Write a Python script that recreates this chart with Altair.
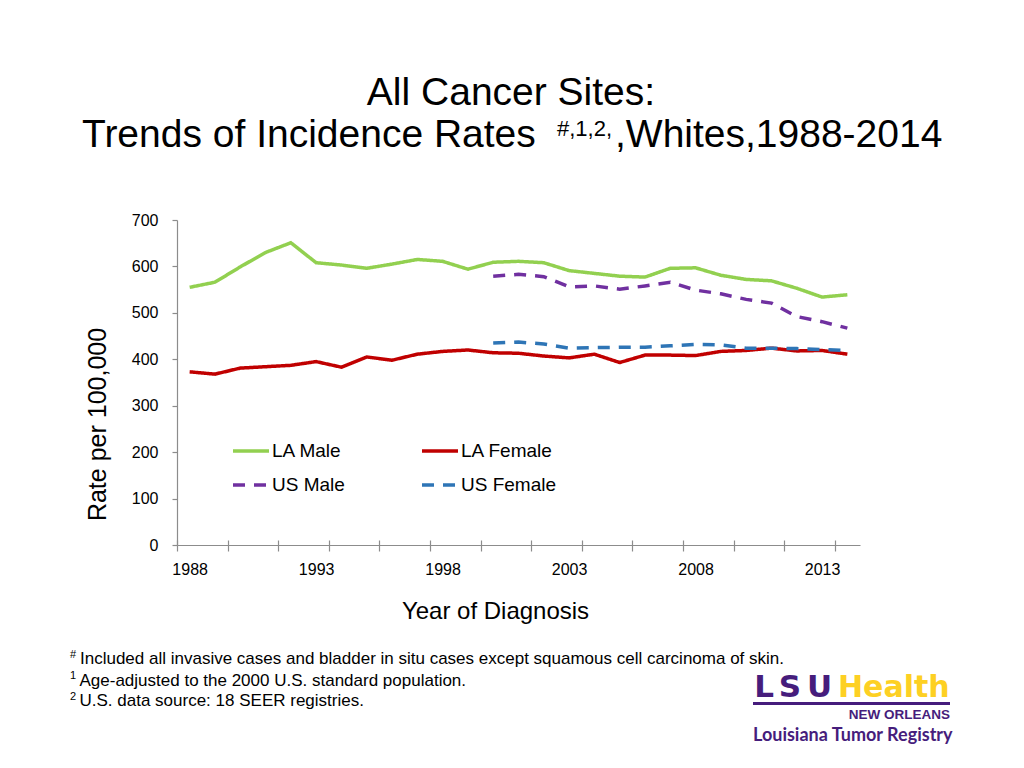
import altair as alt
import pandas as pd

# ---------------- data ----------------
years = list(range(1988, 2015))
us_years = list(range(2000, 2015))
la_male = [555, 566, 599, 630, 651, 608, 603, 596, 605, 615, 611, 594, 609, 611,
           608, 591, 585, 579, 577, 596, 597, 581, 572, 569, 553, 534, 539]
la_female = [373, 368, 381, 384, 387, 395, 383, 405, 398, 411, 417, 420, 414, 413,
             407, 403, 411, 393, 409, 409, 408, 417, 419, 424, 418, 419, 411]
us_male = [579, 583, 578, 556, 558, 551, 558, 566, 549, 541, 529, 521, 492, 481, 467]
us_female = [435, 437, 433, 424, 425, 426, 426, 429, 432, 431, 424, 424, 423, 421, 419]

series = ["LA Male", "LA Female", "US Male", "US Female"]
colors = ["#92D050", "#C00000", "#7030A0", "#2E75B6"]
dashes = [[1, 0], [1, 0], [12, 9], [12, 9]]

label_years = [1988, 1993, 1998, 2003, 2008, 2013]
tick_bounds = [1987.5, 1989.5, 1991.5, 1993.5, 1995.5, 1997.5, 1999.5,
               2001.5, 2003.5, 2005.5, 2007.5, 2009.5, 2011.5, 2013.5]
y_ticks = [0, 100, 200, 300, 400, 500, 600, 700]

rows = []
for name, ys, vals in [("LA Male", years, la_male), ("LA Female", years, la_female),
                       ("US Male", us_years, us_male), ("US Female", us_years, us_female)]:
    for yr, v in zip(ys, vals):
        rows.append({"year": yr, "rate": v, "series": name})
df = pd.DataFrame(rows)

FONT = "Liberation Sans"
GREY = "#8C8C8C"
PURPLE = "#461D7C"
GOLD = "#FDD023"

W, H = 683, 325
OX, OY = 177, 220  # page position of plot origin

xscale = alt.Scale(domain=[1987.5, 2014.5], nice=False, zero=False)
yscale = alt.Scale(domain=[0, 700], nice=False, zero=True)

legend = alt.Legend(
    title=None, orient="none", legendX=231 - OX, legendY=431 - OY,
    direction="horizontal", columns=2, columnPadding=70, rowPadding=4, padding=0,
    symbolType="stroke", symbolSize=1296, symbolStrokeWidth=3.5,
    labelFont=FONT, labelFontSize=19, labelColor="black", labelOffset=1,
)

lines = alt.Chart(df).mark_line(strokeWidth=3.5, strokeCap="butt").encode(
    x=alt.X("year:Q", scale=xscale, axis=alt.Axis(
        orient="bottom", values=tick_bounds, labels=False, ticks=True, tickSize=6,
        tickColor=GREY, domainColor=GREY, domainWidth=1.2, tickWidth=1.2,
        grid=False, title=None)),
    y=alt.Y("rate:Q", scale=yscale, axis=alt.Axis(
        orient="left", values=y_ticks, tickSize=5, tickColor=GREY, domainColor=GREY,
        domainWidth=1.2, tickWidth=1.2, grid=False,
        labelFont=FONT, labelFontSize=16, labelColor="black", labelPadding=14,
        title="Rate per 100,000", titleFont=FONT, titleFontSize=25,
        titleFontWeight="normal", titleColor="black", titleAngle=270,
        titleX=105 - OX, titleY=424 - OY, titleAlign="center",
        titleBaseline="alphabetic")),
    color=alt.Color("series:N", scale=alt.Scale(domain=series, range=colors), legend=legend),
    strokeDash=alt.StrokeDash("series:N", scale=alt.Scale(domain=series, range=dashes), legend=legend),
)

xlabels = alt.Chart(df).mark_point(opacity=0).encode(
    x=alt.X("year:Q", scale=xscale, axis=alt.Axis(
        orient="bottom", values=label_years, format="d", ticks=False, tickSize=0,
        domain=False, grid=False, labelFont=FONT, labelFontSize=16,
        labelColor="black", labelPadding=16,
        title="Year of Diagnosis", titleFont=FONT, titleFontSize=24,
        titleFontWeight="normal", titleColor="black",
        titleX=495 - OX, titleY=618 - 545, titleAlign="center",
        titleBaseline="alphabetic")),
)

xticks_up = alt.Chart(df).mark_point(opacity=0).encode(
    x=alt.X("year:Q", scale=xscale, axis=alt.Axis(
        orient="top", offset=-H, values=tick_bounds, labels=False, ticks=True,
        tickSize=5, tickColor=GREY, tickWidth=1.2, domain=False, grid=False,
        title=None)),
)


def txt(s, px, py, size, align="left", color="black", weight="normal", font=FONT):
    return alt.Chart(pd.DataFrame({"t": [s]})).mark_text(
        align=align, baseline="alphabetic", fontSize=size, font=font,
        color=color, fontWeight=weight,
    ).encode(x=alt.value(px - OX), y=alt.value(py - OY), text="t:N")


texts = [
    txt("All Cancer Sites:", 511, 105, 39, align="center"),
    txt("Trends of Incidence Rates", 82, 147, 39),
    txt("#,1,2,", 557, 136, 22),
    txt(",Whites,1988-2014", 615, 147, 39),
    txt("#", 70, 658, 11),
    txt("Included all invasive cases and bladder in situ cases except squamous cell carcinoma of skin.", 80, 664, 17),
    txt("1", 70, 679, 11),
    txt("Age-adjusted to the 2000 U.S. standard population.", 79.5, 686, 17),
    txt("2", 70, 700, 11),
    txt("U.S. data source: 18 SEER registries.", 79.5, 706, 17),
    txt("L", 764, 697, 31, align="center", color=PURPLE, weight="bold", font="DejaVu Sans"),
    txt("S", 790, 697, 31, align="center", color=PURPLE, weight="bold", font="DejaVu Sans"),
    txt("U", 819.5, 697, 31, align="center", color=PURPLE, weight="bold", font="DejaVu Sans"),
    txt("Health", 838, 697, 30, color=GOLD, weight="bold", font="DejaVu Sans"),
    txt("NEW ORLEANS", 950, 719, 13.5, align="right", color=PURPLE, weight="bold"),
    txt("Louisiana Tumor Registry", 753, 741, 18, color=PURPLE, weight="bold", font="Lato"),
]

logo_rule = alt.Chart(pd.DataFrame({"k": [0]})).mark_rule(
    color=PURPLE, strokeWidth=3
).encode(x=alt.value(753 - OX), x2=alt.value(950 - OX), y=alt.value(703.5 - OY))

chart = alt.layer(lines, xlabels, xticks_up, logo_rule, *texts).resolve_axis(
    x="independent"
).properties(
    width=W, height=H,
    autosize=alt.AutoSizeParams(type="none"),
    padding={"left": OX - 8, "top": OY - 8, "right": 1008 - (OX - 8) - W, "bottom": 752 - (OY - 8) - H},
    background="white",
).configure_view(stroke=None)

chart.save("out.html", embed_options={"renderer": "svg", "actions": False})
